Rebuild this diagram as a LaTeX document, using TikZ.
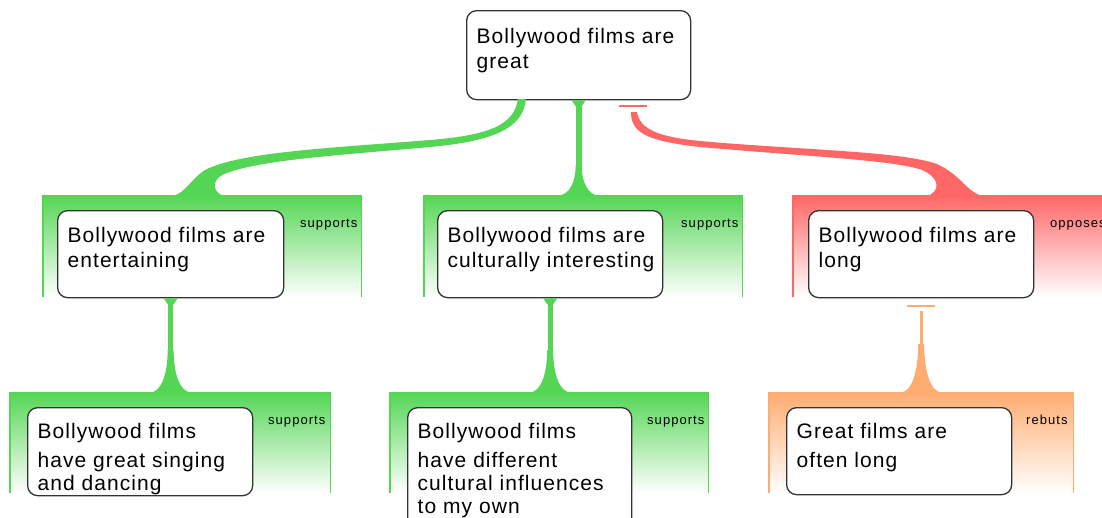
\documentclass[tikz,border=0pt]{standalone}
\usepackage{fontspec}
\setmainfont{Liberation Sans}
\newfontfamily\boxfont[LetterSpace=5]{Liberation Sans}
\newfontfamily\lblfont[LetterSpace=8]{Liberation Sans}
\usetikzlibrary{calc}
\definecolor{gr}{RGB}{84,214,84}
\definecolor{rd}{RGB}{255,102,102}
\definecolor{og}{RGB}{255,172,112}
\tikzset{
  claim/.style={draw=black!80, line width=1.3pt, rounded corners=10pt, fill=white, inner sep=0pt, anchor=north west},
  panel/.style={top color=#1, bottom color=white, draw=none, inner sep=0pt, anchor=north west, minimum height=102pt},
  sideline/.style={draw=#1, line width=1.5pt},
  txt/.style={font=\boxfont\fontsize{21}{25}\selectfont, align=left, inner sep=0pt, anchor=north west},
  txtb/.style={font=\boxfont\fontsize{21}{23}\selectfont, align=left, inner sep=0pt, anchor=north west},
  lbl/.style={font=\lblfont\fontsize{13}{13}\selectfont, inner sep=0pt, anchor=base west},
  pics/flare/.style 2 args={code={\fill[#1] (-21,0.5) .. controls (-9,0.5) and (-3,-#2*0.45) .. (-3,-#2) -- (3,-#2) .. controls (3,-#2*0.45) and (9,0.5) .. (21,0.5) -- cycle;}},
  pics/topflare/.style={code={\fill[#1] (-7,0) -- (7,0) -- (3,6) -- (-3,6) -- cycle;}},
}
\begin{document}
\begin{tikzpicture}[x=1pt,y=-1pt]
\useasboundingbox (0,0) rectangle (1102,517);
\clip (0,0) rectangle (1102,517);
% panels
\node[panel=gr, minimum width=318pt] (p1) at (43,195) {};
\node[panel=gr, minimum width=318pt] (p2) at (424,195) {};
\node[panel=rd, minimum width=318pt] (p3) at (793,195) {};
\node[panel=gr, minimum width=320pt, minimum height=101pt] (q1) at (10,392) {};
\node[panel=gr, minimum width=318pt, minimum height=101pt] (q2) at (390,392) {};
\node[panel=og, minimum width=304pt, minimum height=101pt] (q3) at (769,392) {};
\foreach \p/\c in {p1/gr,p2/gr,p3/rd,q1/gr,q2/gr,q3/og}{
  \draw[sideline=\c] (\p.north west) -- (\p.south west);
  \draw[sideline=\c] (\p.north east) -- (\p.south east);
}
% labels
\node[lbl] (l1) at ($(p1.north west)+(257,32)$) {supports};
\node[lbl] (l2) at ($(p2.north west)+(257,32)$) {supports};
\node[lbl] (l3) at ($(p3.north west)+(257,32)$) {opposes};
\node[lbl] (l4) at ($(q1.north west)+(258,32)$) {supports};
\node[lbl] (l5) at ($(q2.north west)+(257,32)$) {supports};
\node[lbl] (l6) at ($(q3.north west)+(257,32)$) {rebuts};
% claim boxes
\node[claim, minimum width=224pt, minimum height=89pt] (top) at (466,10) {};
\node[claim, minimum width=226pt, minimum height=87pt] (m1) at (57,210) {};
\node[claim, minimum width=225pt, minimum height=87pt] (m2) at (437,210) {};
\node[claim, minimum width=225pt, minimum height=87pt] (m3) at (808,210) {};
\node[claim, minimum width=225pt, minimum height=88pt] (b1) at (27,407) {};
\node[claim, minimum width=224pt, minimum height=130pt] (b2) at (407,407) {};
\node[claim, minimum width=225pt, minimum height=87pt] (b3) at (786,407) {};
% texts
\node[txt] (t0) at ($(top.north west)+(10.5,18)$) {Bollywood films are\\great};
\node[txt] (t1) at ($(m1.north west)+(10.5,17)$) {Bollywood films are\\entertaining};
\node[txt] (t2) at ($(m2.north west)+(10.5,17)$) {Bollywood films are\\culturally interesting};
\node[txt] (t3) at ($(m3.north west)+(10.5,17)$) {Bollywood films are\\long};
\node[txtb] (t4) at ($(b1.north west)+(10.5,16)$) {Bollywood films\\[6pt]have great singing\\and dancing};
\node[txtb] (t5) at ($(b2.north west)+(10.5,16)$) {Bollywood films\\[6pt]have different\\cultural influences\\to my own};
\node[txtb] (t6) at ($(b3.north west)+(10.5,16)$) {Great films are\\[6pt]often long};
% connector: top -> m1 (supports)
\fill[gr] (518,99) .. controls (514,125) and (490,135) .. (430,140) .. controls (330,148) and (240,152) .. (205,170) .. controls (190,180) and (186,192) .. (174,195.5) -- (222,195.5) .. controls (212,190) and (212,180) .. (224,174) .. controls (260,160) and (330,156) .. (430,147) .. controls (495,141) and (523,128) .. (526,99) -- cycle;
% connector: top -> m2 (supports)
\draw[gr, line width=6pt] (top.south) -- (top.south |- p2.north);
\pic at (top.south |- p2.north) {flare={gr}{30}};
\pic at (top.south) {topflare=gr};
% connector: top -> m3 (opposes)
\coordinate (rbar) at (633,106);
\draw[rd, line width=2pt] ($(rbar)+(-14,0)$) -- ($(rbar)+(14,0)$);
\fill[rd] (631,112) .. controls (631,132) and (645,141) .. (700,147) .. controls (800,156) and (895,160) .. (922,170) .. controls (940,178) and (940,190) .. (929,195.5) -- (981,195.5) .. controls (966,191) and (962,176) .. (937,164) .. controls (900,151) and (800,150) .. (700,141) .. controls (660,137) and (640,130) .. (637,112) -- cycle;
% connector: m1 -> b1
\draw[gr, line width=5pt] (m1.south) -- (m1.south |- q1.north);
\pic at (m1.south |- q1.north) {flare={gr}{42}};
\pic at (m1.south) {topflare=gr};
% connector: m2 -> b2
\draw[gr, line width=5pt] (m2.south) -- (m2.south |- q2.north);
\pic at (m2.south |- q2.north) {flare={gr}{42}};
\pic at (m2.south) {topflare=gr};
% connector: m3 -> b3 (rebuts)
\draw[og, line width=2pt] ($(m3.south)+(-14,8)$) -- ($(m3.south)+(14,8)$);
\draw[og, line width=3pt] ($(m3.south)+(0,13)$) -- (m3.south |- q3.north);
\pic at (m3.south |- q3.north) {flare={og}{48}};
\end{tikzpicture}
\end{document}
